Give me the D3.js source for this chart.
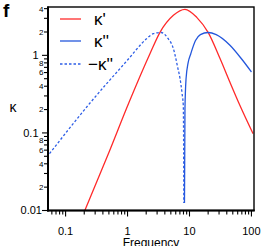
<!DOCTYPE html>
<html>
<head>
<meta charset="utf-8">
<script src="https://cdn.jsdelivr.net/npm/d3@7"></script>
<style>
  body { margin: 0; background: #fff; }
  svg { display: block; font-family: "Liberation Sans", Arial, sans-serif; }
</style>
</head>
<body>
<svg id="chart" width="275" height="246"></svg>
<script>
// kappa' (real part)
var realFreq = [0.2, 0.5, 1.05, 2.3, 3.34, 5.5, 8.46, 13.1, 20.1, 31, 45, 65, 106];
var realVal  = [0.0096, 0.056, 0.245, 1.05, 1.98, 3.28, 3.92, 3.09, 1.96, 0.915, 0.449, 0.227, 0.098];
// kappa'' where positive
var posFreq = [8.3, 8.45, 8.8, 9.5, 10.5, 12.5, 15, 20, 27, 45, 70, 100];
var posVal  = [0.0125, 0.2, 0.5, 0.8, 1.05, 1.55, 1.85, 1.97, 1.85, 1.35, 0.89, 0.61];
// -kappa'' where kappa'' is negative
var negFreq = [0.055, 0.23, 1.0, 2.0, 2.6, 3.5, 4.5, 5.5, 6.5, 7.03, 7.6, 7.94, 8.05, 8.1];
var negVal  = [0.054, 0.226, 0.87, 1.62, 1.9, 1.97, 1.65, 1.22, 0.68, 0.505, 0.32, 0.227, 0.06, 0.0125];

var xMajor = [0.1, 1, 10, 100];
var xMajorLabels = ['0.1', '1', '10', '100'];
var yMajor = [0.01, 0.1, 1];
var yMajorLabels = ['0.01', '0.1', '1'];
var yMinorLab = [0.02, 0.04, 0.06, 0.08, 0.2, 0.4, 0.6, 0.8, 2, 4];
var yMinorLabels = ['2', '4', '6', '8', '2', '4', '6', '8', '2', '4'];
var legendNames = ["κ'", "κ''", "−κ''"];

var plotL = 48, plotR = 254, plotT = 7, plotB = 210.5;

var x = d3.scaleLog().domain([0.052, 110]).range([plotL, plotR]);
var y = d3.scaleLog().domain([0.01, 4.2]).range([plotB, plotT]);

var svg = d3.select('#chart');

svg.append('clipPath').attr('id', 'plot-clip')
  .append('rect')
    .attr('x', plotL).attr('y', plotT)
    .attr('width', plotR - plotL).attr('height', plotB - plotT);

var line = d3.line()
    .x(function(d) { return x(d[0]); })
    .y(function(d) { return y(d[1]); })
    .curve(d3.curveMonotoneX);

function pairs(fs, vs) {
  return fs.map(function(f, i) { return [f, vs[i]]; });
}

var series = [
  {data: pairs(realFreq, realVal), color: '#ff2a2a', dash: null},
  {data: pairs(posFreq, posVal), color: '#2457dc', dash: null},
  {data: pairs(negFreq, negVal), color: '#2e5ee6', dash: '2.5,2'}
];

var plot = svg.append('g').attr('clip-path', 'url(#plot-clip)');
plot.selectAll('path')
    .data(series)
  .enter().append('path')
    .attr('d', function(d) { return line(d.data); })
    .attr('fill', 'none')
    .attr('stroke', function(d) { return d.color; })
    .attr('stroke-width', 1.3)
    .attr('stroke-dasharray', function(d) { return d.dash; });

// frame
svg.append('rect')
    .attr('x', plotL).attr('y', plotT)
    .attr('width', plotR - plotL).attr('height', plotB - plotT)
    .attr('fill', 'none').attr('stroke', '#000').attr('stroke-width', 1.4);
svg.append('line')
    .attr('x1', plotL).attr('x2', plotL).attr('y1', plotT - 0.5).attr('y2', plotB + 1)
    .attr('stroke', '#000').attr('stroke-width', 2);
svg.append('line')
    .attr('x1', plotL - 1).attr('x2', plotR + 0.7).attr('y1', plotB).attr('y2', plotB)
    .attr('stroke', '#000').attr('stroke-width', 2);

// x ticks
var xTicks = x.ticks().filter(function(t) { return t >= 0.052 && t <= 110; });
svg.append('g').selectAll('line')
    .data(xTicks)
  .enter().append('line')
    .attr('x1', function(d) { return x(d); })
    .attr('x2', function(d) { return x(d); })
    .attr('y1', plotB)
    .attr('y2', function(d) { return xMajor.indexOf(+d.toPrecision(3)) >= 0 ? plotB + 6 : plotB + 4; })
    .attr('stroke', '#000').attr('stroke-width', 1.1);

svg.append('g').selectAll('text')
    .data(xMajor)
  .enter().append('text')
    .attr('x', function(d) { return x(d); })
    .attr('y', 235)
    .attr('text-anchor', 'middle')
    .attr('font-size', 11)
    .text(function(d, i) { return xMajorLabels[i]; });

// y ticks
var yTicks = y.ticks().filter(function(t) { return t >= 0.01 && t <= 4.2; });
svg.append('g').selectAll('line')
    .data(yTicks)
  .enter().append('line')
    .attr('x1', function(d) { return yMajor.indexOf(+d.toPrecision(3)) >= 0 ? plotL - 6 : plotL - 4; })
    .attr('x2', plotL)
    .attr('y1', function(d) { return y(d); })
    .attr('y2', function(d) { return y(d); })
    .attr('stroke', '#000').attr('stroke-width', 1.1);

svg.append('g').selectAll('text')
    .data(yMajor)
  .enter().append('text')
    .attr('x', function(d, i) { return i === 0 ? 42 : 38.5; })
    .attr('y', function(d) { return y(d); })
    .attr('dy', '0.36em')
    .attr('text-anchor', 'end')
    .attr('font-size', 11)
    .text(function(d, i) { return yMajorLabels[i]; });

svg.append('g').selectAll('text')
    .data(yMinorLab)
  .enter().append('text')
    .attr('x', 43.5)
    .attr('y', function(d) { return y(d); })
    .attr('dy', '0.36em')
    .attr('text-anchor', 'end')
    .attr('font-size', 8)
    .text(function(d, i) { return yMinorLabels[i]; });

// axis titles
svg.append('text')
    .attr('x', 151).attr('y', 247)
    .attr('text-anchor', 'middle')
    .attr('font-size', 12)
    .text('Frequency');
svg.append('text')
    .attr('x', 13).attr('y', 112)
    .attr('text-anchor', 'middle')
    .attr('font-size', 14)
    .text('κ');
svg.append('text')
    .attr('x', 3).attr('y', 17)
    .attr('font-size', 19)
    .attr('font-weight', 'bold')
    .text('f');

// legend
var legend = svg.append('g').selectAll('g')
    .data(series)
  .enter().append('g')
    .attr('transform', function(d, i) { return 'translate(0,' + [19, 41, 64][i] + ')'; });
legend.append('line')
    .attr('x1', 60).attr('x2', 81)
    .attr('stroke', function(d) { return d.color; })
    .attr('stroke-width', 1.3)
    .attr('stroke-dasharray', function(d) { return d.dash; });
legend.append('text')
    .attr('x', function(d, i) { return i === 2 ? 88 : 94; })
    .attr('y', 6)
    .attr('font-size', 17)
    .text(function(d, i) { return legendNames[i]; });
</script>
</body>
</html>
